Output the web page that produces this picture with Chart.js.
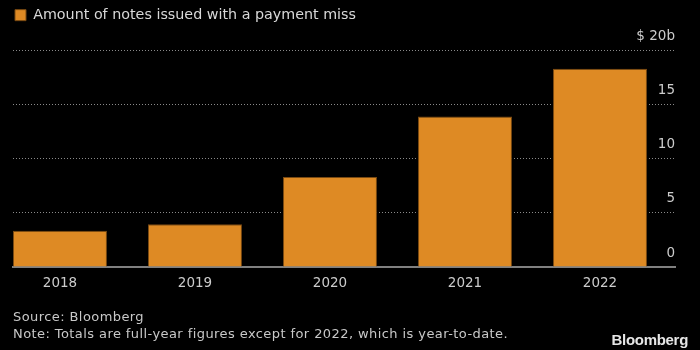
<!DOCTYPE html>
<html>
<head>
<meta charset="utf-8">
<script src="https://cdn.jsdelivr.net/npm/chart.js@4"></script>
<style>
  html, body { margin: 0; padding: 0; background: #000; }
  #wrap { position: relative; width: 700px; height: 350px; background: #000; overflow: hidden; }
  #notes { position: absolute; left: 13px; top: 308px; font: 13px "DejaVu Sans", sans-serif; color: #c8c8c8; line-height: 17px; letter-spacing: 0.42px; }
  #logo { position: absolute; right: 12px; top: 331px; font: bold 15px "Liberation Sans", Arial, sans-serif; color: #e6e6e6; letter-spacing: -0.3px; }
</style>
</head>
<body>
<div id="wrap">
  <canvas id="myViz" width="700" height="350"></canvas>
  <div id="notes">Source: Bloomberg<br>Note: Totals are full-year figures except for 2022, which is year-to-date.</div>
  <div id="logo">Bloomberg</div>
</div>
<script>
// chart data
const years = ['2018', '2019', '2020', '2021', '2022'];
const issuedWithMiss = [3.35, 3.95, 8.3, 13.9, 18.3];
const yTicks = [0, 5, 10, 15, 20];
const seriesLabel = 'Amount of notes issued with a payment miss';

const ORANGE = '#DE8A24';
const TEXT = '#cccccc';
const FONT = '"DejaVu Sans", sans-serif';

// push the plot down a bit below the legend line
const legendGap = {
    id: 'legendGap',
    beforeInit(chart) {
        const fit = chart.legend.fit;
        chart.legend.fit = function () {
            fit.bind(chart.legend)();
            this.height += 18;
        };
    },
};

const config = {
    type: 'bar',
    plugins: [legendGap],
    data: {
        datasets: [{
            label: seriesLabel,
            data: years.map((y, i) => ({ x: i, y: issuedWithMiss[i] })),
            backgroundColor: ORANGE,
            borderColor: '#7a4a12',
            borderWidth: 1,
            borderSkipped: 'bottom',
            categoryPercentage: 1,
            barPercentage: 0.696,
        }],
    },
    options: {
        responsive: false,
        animation: false,
        layout: {
            padding: { left: 13, right: 25, top: 6, bottom: 53 },
        },
        scales: {
            x: {
                type: 'linear',
                position: 'bottom',
                offset: false,
                min: -0.348,
                max: 4.5556,
                afterBuildTicks: (scale) => {
                    scale.ticks = years.map((y, i) => ({ value: i }));
                },
                afterFit: (scale) => {
                    scale.height = 30;
                },
                ticks: {
                    color: TEXT,
                    font: { family: FONT, size: 13.5 },
                    padding: 8,
                    maxRotation: 0,
                    autoSkip: false,
                    callback: (v) => years[v],
                },
                grid: { display: false, drawTicks: false, offset: false },
                border: { display: true, color: '#808080', width: 2 },
            },
            y: {
                position: 'right',
                min: 0,
                max: 20,
                afterBuildTicks: (scale) => {
                    scale.ticks = yTicks.map((v) => ({ value: v }));
                },
                ticks: {
                    mirror: true,
                    padding: 0,
                    labelOffset: -14,
                    color: TEXT,
                    font: { family: FONT, size: 13.5 },
                    callback: (v) => (v === 20 ? '$ 20b' : String(v)),
                },
                grid: {
                    drawTicks: false,
                    color: (ctx) => (ctx.tick && ctx.tick.value === 0 ? 'rgba(0,0,0,0)' : '#8a8a8a'),
                    lineWidth: 1,
                },
                border: { display: false, dash: [1, 2] },
            },
        },
        plugins: {
            legend: {
                display: true,
                position: 'top',
                align: 'start',
                labels: {
                    color: '#d8d8d8',
                    font: { family: FONT, size: 14.3 },
                    boxWidth: 11,
                    boxHeight: 11,
                    padding: 2,
                },
            },
            tooltip: { enabled: false },
        },
    },
};

const ctx = document.getElementById('myViz').getContext('2d');
const myChart = new Chart(ctx, config);
</script>
</body>
</html>
